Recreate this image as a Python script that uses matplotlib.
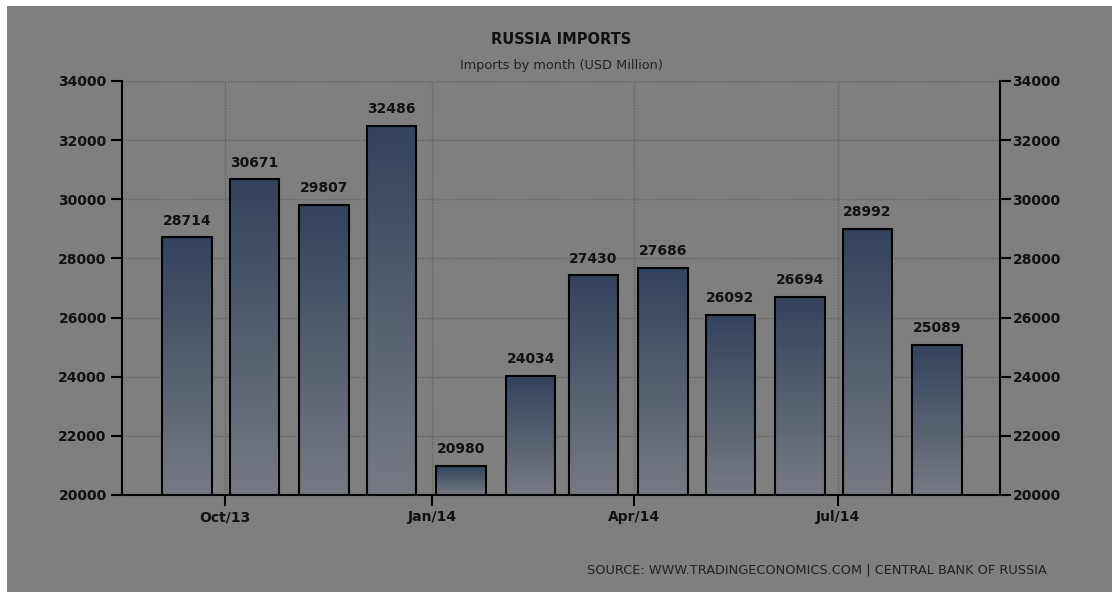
import datetime as dt
import numpy as np
import matplotlib
matplotlib.use('Agg')
import matplotlib.pyplot as plt
import matplotlib.dates as mdates
from matplotlib.colors import LinearSegmentedColormap
from matplotlib.patches import Rectangle

# data: Russia imports, USD million, Sep/13 - Aug/14
months = ['2013-09', '2013-10', '2013-11', '2013-12', '2014-01', '2014-02',
          '2014-03', '2014-04', '2014-05', '2014-06', '2014-07', '2014-08']
imports = [28714, 30671, 29807, 32486, 20980, 24034,
           27430, 27686, 26092, 26694, 28992, 25089]
tick_dates = ['2013-10-01', '2014-01-01', '2014-04-01', '2014-07-01']
tick_labels = ['Oct/13', 'Jan/14', 'Apr/14', 'Jul/14']
y_ticks = [20000, 22000, 24000, 26000, 28000, 30000, 32000, 34000]

plt.rcParams['font.family'] = ['DejaVu Sans']

bg = '#7f7f7f'
txt = '#111111'

fig = plt.figure(figsize=(11.12, 5.92), dpi=100)
fig.patch.set_facecolor('white')
fig.patches.append(Rectangle((7 / 1112, 0), 1 - 7 / 1112, 1 - 6 / 592,
                             transform=fig.transFigure, facecolor=bg,
                             edgecolor='none', zorder=-10))

ax = fig.add_axes([122 / 1112, 1 - 495 / 592, 878 / 1112, 414 / 592])
ax.set_facecolor('none')

# bar positions: centred around the 14th of each month
x = [mdates.date2num(dt.datetime.strptime(m + '-14', '%Y-%m-%d')) for m in months]
width = 22

cmap = LinearSegmentedColormap.from_list('bar', ['#767a83', '#33435d'])
grad = np.linspace(0, 1, 256).reshape(-1, 1)

for xi, v in zip(x, imports):
    ax.imshow(grad, extent=[xi - width / 2, xi + width / 2, 20000, v],
              origin='lower', aspect='auto', cmap=cmap, zorder=2)
    ax.bar(xi, v - 20000, bottom=20000, width=width, facecolor='none',
           edgecolor='black', linewidth=1.5, zorder=3)
    ax.text(xi, v + 330, str(v), ha='center', va='bottom', fontsize=10,
            fontweight='bold', color=txt)

ax.set_xlim(mdates.date2num(dt.datetime(2013, 8, 16)),
            mdates.date2num(dt.datetime(2014, 9, 11)))
ax.set_ylim(20000, 34000)

xt = [mdates.date2num(dt.datetime.strptime(d, '%Y-%m-%d')) for d in tick_dates]
ax.set_xticks(xt)
ax.set_xticklabels(tick_labels, fontsize=10, fontweight='bold', color=txt)
ax.set_yticks(y_ticks)
ax.set_yticklabels([str(t) for t in y_ticks], fontsize=10, fontweight='bold', color=txt)

ax.grid(True, linestyle=(0, (1, 1)), color='#636363', linewidth=1, zorder=1)
ax.set_axisbelow(True)

ax.spines['top'].set_visible(False)
ax.spines['right'].set_visible(False)
ax.spines['left'].set_linewidth(1.5)
ax.spines['bottom'].set_linewidth(1.5)
ax.tick_params(axis='both', direction='out', length=8, width=1.5, color='black', pad=3)

ax2 = ax.twinx()
ax2.set_ylim(20000, 34000)
ax2.set_yticks(y_ticks)
ax2.set_yticklabels([str(t) for t in y_ticks], fontsize=10, fontweight='bold', color=txt)
ax2.spines['top'].set_visible(False)
ax2.spines['left'].set_visible(False)
ax2.spines['bottom'].set_visible(False)
ax2.spines['right'].set_linewidth(1.5)
ax2.tick_params(axis='y', direction='out', length=8, width=1.5, color='black', pad=1)

fig.text(561 / 1112, 1 - 39 / 592, 'RUSSIA IMPORTS', ha='center', va='center',
         fontsize=10.5, fontweight='bold', color=txt)
fig.text(561 / 1112, 1 - 66 / 592, 'Imports by month (USD Million)', ha='center',
         va='center', fontsize=9.3, color='#222222')
fig.text(1047 / 1112, 1 - 570 / 592,
         'SOURCE: WWW.TRADINGECONOMICS.COM | CENTRAL BANK OF RUSSIA',
         ha='right', va='center', fontsize=9.3, color='#222222')

fig.savefig('out.png', dpi=100)
